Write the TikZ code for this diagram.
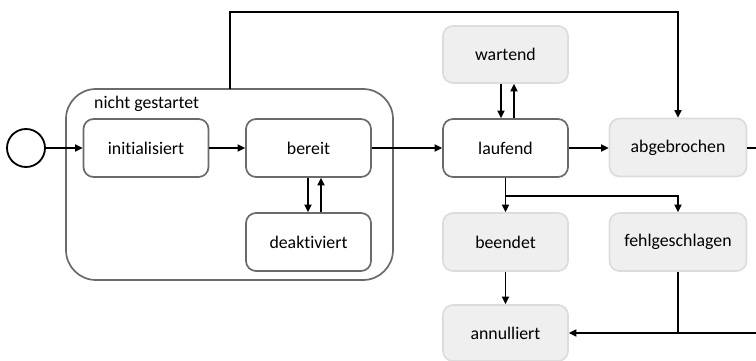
\documentclass[tikz,border=0pt]{standalone}
\usepackage{fontspec}
\setmainfont{Carlito}[Ligatures=NoCommon]
\usetikzlibrary{arrows.meta}
\definecolor{edgegray}{HTML}{6A6A6A}
\definecolor{softfill}{HTML}{EFEFEF}
\definecolor{softedge}{HTML}{DCDCDC}
\begin{document}
\begin{tikzpicture}[x=1pt,y=-1pt,
  every node/.style={font=\fontsize{17.8}{20}\selectfont},
  state/.style={draw=edgegray,line width=1.7pt,fill=white,rounded corners=10pt,
    minimum width=125pt,minimum height=58pt,inner sep=0pt},
  endstate/.style={draw=softedge,line width=1.7pt,fill=softfill,rounded corners=10pt,
    minimum width=125pt,minimum height=58pt,inner sep=0pt},
  flow/.style={line width=1.8pt,-{Triangle[length=7.5pt,width=7pt]}},
  plain/.style={line width=1.8pt}]
\useasboundingbox (0,0) rectangle (756,361);
\clip (0,0) rectangle (756,361);

% composite state
\draw[edgegray,line width=1.7pt,rounded corners=30pt] (66,89) rectangle (393,280);
\node[anchor=west,inner sep=0pt] (grp) at (94,104) {nicht gestartet};
\coordinate (grptop) at (230,89);

% start point
\node[circle,draw,line width=1.8pt,minimum size=38pt,inner sep=0pt] (start) at (26,148) {};

% states
\node[state] (init) at (146,148) {initialisiert};
\node[state] (ber) at (308.5,148) {bereit};
\node[state] (deak) at (308.5,242) {deaktiviert};
\node[state] (lauf) at (505.5,148) {laufend};
\node[endstate,minimum height=57pt] (wart) at (505.5,54.5) {wartend};
\node[endstate,minimum width=137pt] (abg) at (678,147.5) {abgebrochen};
\node[endstate] (been) at (505.5,242) {beendet};
\node[endstate,minimum width=137pt] (fehl) at (678,242) {fehlgeschlagen};
\node[endstate,minimum height=56pt] (ann) at (505.5,333) {annulliert};

% helper points
\coordinate (split) at (505.5,196);
\coordinate (merge) at (678,333);
\coordinate (outR) at (775,148);

% transitions
\draw[flow] (start) -- (init);
\draw[flow] (init) -- (ber);
\draw[flow] (ber) -- (lauf);
\draw[flow] (lauf.east) -- (abg.west |- lauf.east);
\draw[flow] ([xshift=-0.5pt]ber.south) -- ([xshift=-0.5pt]deak.north);
\draw[flow] ([xshift=12.5pt]deak.north) -- ([xshift=12.5pt]ber.south);
\draw[flow] ([xshift=-4.5pt]wart.south) -- ([xshift=-4.5pt]lauf.north);
\draw[flow] ([xshift=8.5pt]lauf.north) -- ([xshift=8.5pt]wart.south);
\draw[flow] (grptop) |- ++(0,-77) -| (abg.north);
\draw[plain] (lauf.south) -- (split);
\draw[flow] (split) -- (been.north);
\draw[flow] (split) -| (fehl.north);
\draw[flow] (been) -- (ann);
\draw[plain] (fehl.south) -- (merge);
\draw[flow] (merge) -- (ann.east);
\draw[plain] (abg.east |- lauf.east) -- (outR) |- (merge);
\end{tikzpicture}
\end{document}
